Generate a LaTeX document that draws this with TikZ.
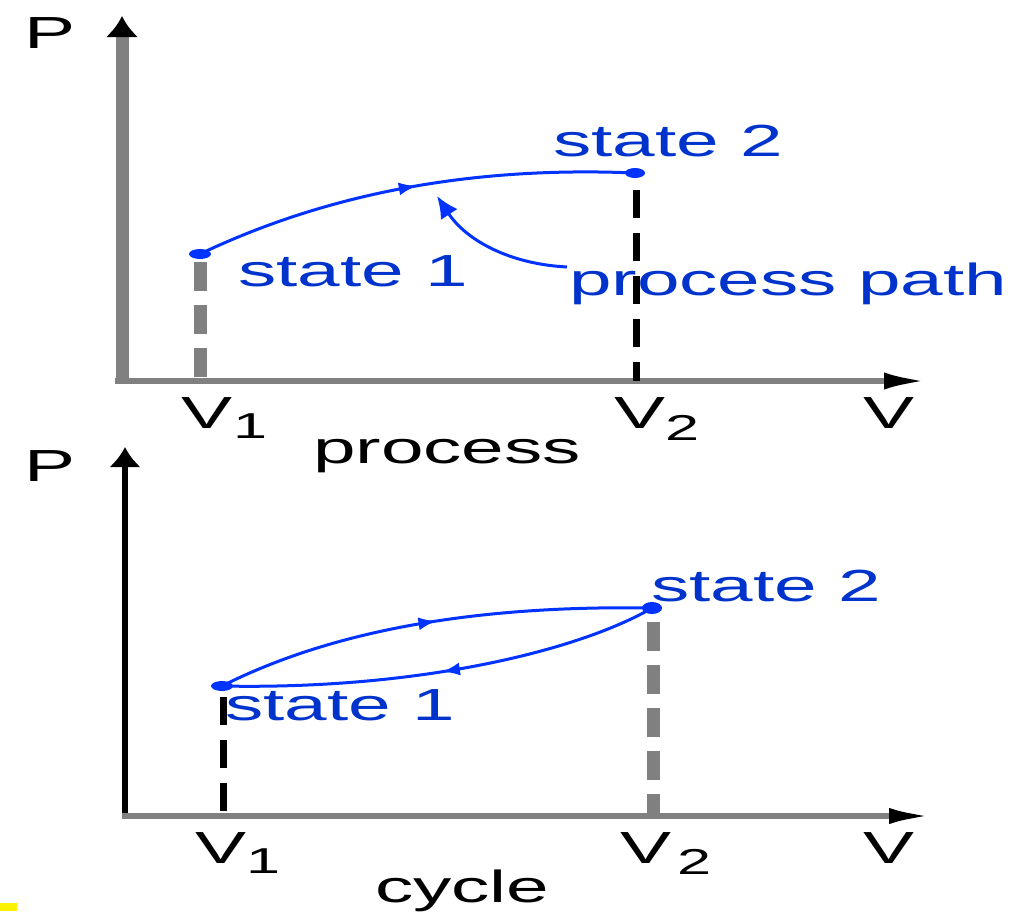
\documentclass[tikz,border=0pt]{standalone}
\usepackage{fontspec}
\usepackage{graphicx}
\setmainfont{Liberation Sans}
\usetikzlibrary{arrows.meta,decorations.markings}
\definecolor{lblue}{RGB}{0,51,255}
\definecolor{tblue}{RGB}{0,51,204}
\definecolor{axgray}{RGB}{128,128,128}
\newcommand{\sx}[1]{\scalebox{1.7}[1]{#1}}
\tikzset{
  lbl/.style={anchor=base west, inner sep=0pt, outer sep=0pt, font=\fontsize{45}{45}\selectfont},
  sublbl/.style={anchor=base west, inner sep=0pt, outer sep=0pt, font=\fontsize{36}{36}\selectfont},
  blbl/.style={lbl, text=tblue},
  curve/.style={draw=lblue, line width=3pt},
  midarrow/.style={postaction=decorate, decoration={markings, mark=at position #1 with {\arrow{Latex[length=18pt,width=13pt]}}}},
  grayaxis/.style={axgray, line width=#1},
  graydash/.style={axgray, line width=13pt, dash pattern=on 29pt off 14pt},
  blackdash/.style={black, line width=7pt, dash pattern=on 28pt off 15pt},
}
\begin{document}
\begin{tikzpicture}[x=1pt,y=-1pt]
\useasboundingbox (0,0) rectangle (1019,911);
% ---------------- top plot ----------------
\coordinate (t0) at (122,384);
\coordinate (ty) at (122,16);
\coordinate (tx0) at (115,381);
\coordinate (tx) at (928,381);
\draw[grayaxis=13pt, -{Latex[black,length=21pt,width=33pt]}] (t0) -- (ty);
\draw[grayaxis=6pt, -{Latex[black,length=44pt,width=17pt]}] (tx0) -- (tx);
\coordinate (s1) at (200,254);
\coordinate (s2) at (635,173);
\coordinate (s1d) at (200,262);
\coordinate (s1b) at (200,381);
\coordinate (s2d) at (636,190);
\coordinate (s2b) at (636,381);
\draw[graydash] (s1d) -- (s1b);
\node[blbl] (ppath) at (569,295) {\sx{process path}};
\node[blbl] (st2) at (553,156) {\sx{state 2}};
\node[blbl] (st1) at (238,286) {\sx{state 1}};
\draw[blackdash] (s2d) -- (s2b);
\draw[curve, midarrow=0.51] (s1) .. controls (328,193) and (473,166) .. (s2);
\fill[lblue] (s1) ellipse [x radius=11, y radius=5];
\fill[lblue] (s2) ellipse [x radius=10, y radius=5];
\coordinate (pp) at (567,267);
\coordinate (pt) at (437,196);
\draw[curve, -{Latex[length=22pt,width=20pt]}] (pp) .. controls (509,264) and (466,240) .. (pt);
\node[lbl] (P1) at (24,48) {\sx{P}};
\node[lbl] (V1a) at (181,428) {\sx{V}};
\node[sublbl] (V1s) at (233,438) {\sx{1}};
\node[lbl] (V2a) at (614,428) {\sx{V}};
\node[sublbl] (V2s) at (665,440) {\sx{2}};
\node[lbl] (Va) at (863,428) {\sx{V}};
\node[lbl] (proc) at (313,463) {\sx{process}};
% ---------------- bottom plot ----------------
\coordinate (b0) at (125,819);
\coordinate (by) at (125,447);
\coordinate (bx0) at (122,816);
\coordinate (bx) at (933,816);
\draw[black, line width=6pt, -{Latex[length=20pt,width=32pt]}] (b0) -- (by);
\draw[grayaxis=6pt, -{Latex[black,length=44pt,width=16pt]}] (bx0) -- (bx);
\coordinate (b1) at (222,686);
\coordinate (b2) at (652,608);
\coordinate (b1d) at (223,697);
\coordinate (b1b) at (223,816);
\coordinate (b2d) at (653,622);
\coordinate (b2b) at (653,816);
\draw[graydash] (b2d) -- (b2b);
\node[blbl] (bst2) at (651,601) {\sx{state 2}};
\node[blbl] (bst1) at (225,720) {\sx{state 1}};
\draw[blackdash] (b1d) -- (b1b);
\draw[curve, midarrow=0.51] (b1) .. controls (331,631) and (474,605) .. (b2);
\draw[curve, midarrow=0.5] (b2) .. controls (580,650) and (420,690) .. (b1);
\fill[lblue] (b1) ellipse [x radius=11, y radius=5];
\fill[lblue] (b2) ellipse [x radius=10, y radius=6];
\node[lbl] (P2) at (24,481) {\sx{P}};
\node[lbl] (bV1a) at (195,863) {\sx{V}};
\node[sublbl] (bV1s) at (246,873) {\sx{1}};
\node[lbl] (bV2a) at (620,863) {\sx{V}};
\node[sublbl] (bV2s) at (677,874) {\sx{2}};
\node[lbl] (bVa) at (863,863) {\sx{V}};
\node[lbl] (cyc) at (375,902) {\sx{cycle}};
\fill[yellow] (0,903) rectangle (17,911);
\end{tikzpicture}
\end{document}
